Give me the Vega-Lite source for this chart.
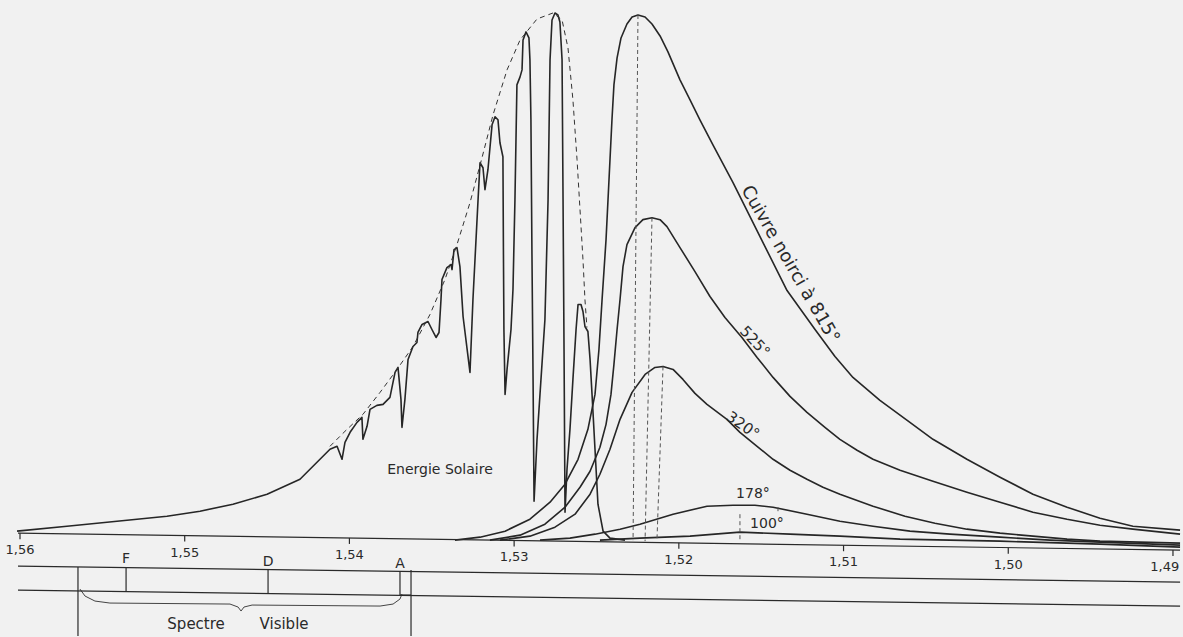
{
  "$schema": "https://vega.github.io/schema/vega-lite/v6.json",
  "width": 1183,
  "height": 637,
  "padding": 0,
  "autosize": {"type": "fit", "contains": "padding"},
  "background": "#f1f1f1",
  "config": {"view": {"stroke": null}},
  "datasets": {
    "curves": [
      {"s":"solar","n":1.56018,"e":13},{"s":"solar","n":1.55715,"e":18},{"s":"solar","n":1.55411,"e":23},{"s":"solar","n":1.55108,"e":28},{"s":"solar","n":1.54907,"e":33},{"s":"solar","n":1.54707,"e":40},{"s":"solar","n":1.545,"e":50},{"s":"solar","n":1.543,"e":65},{"s":"solar","n":1.54118,"e":95},{"s":"solar","n":1.54075,"e":98},{"s":"solar","n":1.54045,"e":85},{"s":"solar","n":1.54027,"e":102},{"s":"solar","n":1.53996,"e":112},{"s":"solar","n":1.53954,"e":122},{"s":"solar","n":1.53924,"e":127},{"s":"solar","n":1.53918,"e":105},{"s":"solar","n":1.53893,"e":118},{"s":"solar","n":1.53875,"e":135},{"s":"solar","n":1.53833,"e":139},{"s":"solar","n":1.53796,"e":140},{"s":"solar","n":1.53754,"e":147},{"s":"solar","n":1.53723,"e":172},{"s":"solar","n":1.53705,"e":177},{"s":"solar","n":1.53687,"e":145},{"s":"solar","n":1.53681,"e":117},{"s":"solar","n":1.53663,"e":145},{"s":"solar","n":1.53644,"e":185},{"s":"solar","n":1.53614,"e":198},{"s":"solar","n":1.5359,"e":202},{"s":"solar","n":1.53584,"e":212},{"s":"solar","n":1.53559,"e":220},{"s":"solar","n":1.53523,"e":223},{"s":"solar","n":1.53499,"e":215},{"s":"solar","n":1.53474,"e":207},{"s":"solar","n":1.53456,"e":212},{"s":"solar","n":1.53444,"e":245},{"s":"solar","n":1.53438,"e":265},{"s":"solar","n":1.53408,"e":277},{"s":"solar","n":1.53383,"e":280},{"s":"solar","n":1.53377,"e":275},{"s":"solar","n":1.53365,"e":295},{"s":"solar","n":1.53347,"e":297},{"s":"solar","n":1.53329,"e":278},{"s":"solar","n":1.5331,"e":228},{"s":"solar","n":1.53268,"e":172},{"s":"solar","n":1.5325,"e":245},{"s":"solar","n":1.53219,"e":345},{"s":"solar","n":1.53207,"e":382},{"s":"solar","n":1.53189,"e":377},{"s":"solar","n":1.53177,"e":355},{"s":"solar","n":1.53159,"e":375},{"s":"solar","n":1.53134,"e":420},{"s":"solar","n":1.53116,"e":428},{"s":"solar","n":1.53098,"e":425},{"s":"solar","n":1.53086,"e":402},{"s":"solar","n":1.53068,"e":388},{"s":"solar","n":1.53065,"e":295},{"s":"solar","n":1.53062,"e":215},{"s":"solar","n":1.53055,"e":150},{"s":"solar","n":1.53043,"e":175},{"s":"solar","n":1.53019,"e":215},{"s":"solar","n":1.53007,"e":255},{"s":"solar","n":1.52995,"e":345},{"s":"solar","n":1.52983,"e":460},{"s":"solar","n":1.52964,"e":468},{"s":"solar","n":1.52952,"e":475},{"s":"solar","n":1.52946,"e":505},{"s":"solar","n":1.52928,"e":513},{"s":"solar","n":1.5291,"e":507},{"s":"solar","n":1.52904,"e":485},{"s":"solar","n":1.52898,"e":425},{"s":"solar","n":1.52892,"e":295},{"s":"solar","n":1.52885,"e":165},{"s":"solar","n":1.52879,"e":43},{"s":"solar","n":1.52861,"e":105},{"s":"solar","n":1.52837,"e":165},{"s":"solar","n":1.52813,"e":225},{"s":"solar","n":1.52794,"e":345},{"s":"solar","n":1.52782,"e":485},{"s":"solar","n":1.5277,"e":525},{"s":"solar","n":1.52752,"e":532},{"s":"solar","n":1.52734,"e":530},{"s":"solar","n":1.52722,"e":523},{"s":"solar","n":1.52709,"e":485},{"s":"solar","n":1.52703,"e":345},{"s":"solar","n":1.52697,"e":195},{"s":"solar","n":1.52691,"e":32},{"s":"solar","n":1.52679,"e":75},{"s":"solar","n":1.52661,"e":115},{"s":"solar","n":1.52643,"e":165},{"s":"solar","n":1.52624,"e":215},{"s":"solar","n":1.52612,"e":240},{"s":"solar","n":1.52594,"e":240},{"s":"solar","n":1.52582,"e":233},{"s":"solar","n":1.5257,"e":218},{"s":"solar","n":1.52552,"e":213},{"s":"solar","n":1.52539,"e":185},{"s":"solar","n":1.52527,"e":150},{"s":"solar","n":1.52509,"e":95},{"s":"solar","n":1.52491,"e":40},{"s":"solar","n":1.5246,"e":13},{"s":"solar","n":1.52418,"e":6},{"s":"solar","n":1.52327,"e":4},
      {"s":"815","n":1.53359,"e":4},{"s":"815","n":1.53207,"e":7},{"s":"815","n":1.53055,"e":13},{"s":"815","n":1.52904,"e":25},{"s":"815","n":1.52782,"e":42},{"s":"815","n":1.52691,"e":60},{"s":"815","n":1.52612,"e":85},{"s":"815","n":1.52552,"e":115},{"s":"815","n":1.52509,"e":150},{"s":"815","n":1.52485,"e":195},{"s":"815","n":1.52466,"e":245},{"s":"815","n":1.52442,"e":305},{"s":"815","n":1.52424,"e":365},{"s":"815","n":1.52406,"e":425},{"s":"815","n":1.52394,"e":460},{"s":"815","n":1.52375,"e":487},{"s":"815","n":1.52351,"e":507},{"s":"815","n":1.52315,"e":521},{"s":"815","n":1.52284,"e":528},{"s":"815","n":1.52248,"e":530},{"s":"815","n":1.52205,"e":528},{"s":"815","n":1.52163,"e":521},{"s":"815","n":1.52114,"e":509},{"s":"815","n":1.52066,"e":493},{"s":"815","n":1.51993,"e":465},{"s":"815","n":1.51932,"e":445},{"s":"815","n":1.51872,"e":425},{"s":"815","n":1.51793,"e":400},{"s":"815","n":1.51671,"e":362},{"s":"815","n":1.5158,"e":332},{"s":"815","n":1.51489,"e":302},{"s":"815","n":1.51343,"e":254},{"s":"815","n":1.51173,"e":215},{"s":"815","n":1.51052,"e":188},{"s":"815","n":1.50943,"e":167},{"s":"815","n":1.50779,"e":144},{"s":"815","n":1.50597,"e":122},{"s":"815","n":1.50457,"e":105},{"s":"815","n":1.50251,"e":85},{"s":"815","n":1.5005,"e":67},{"s":"815","n":1.4985,"e":50},{"s":"815","n":1.49643,"e":37},{"s":"815","n":1.49443,"e":26},{"s":"815","n":1.49243,"e":18},{"s":"815","n":1.48957,"e":14},
      {"s":"525","n":1.53147,"e":4},{"s":"525","n":1.52964,"e":9},{"s":"525","n":1.52813,"e":20},{"s":"525","n":1.52691,"e":37},{"s":"525","n":1.526,"e":57},{"s":"525","n":1.52539,"e":73},{"s":"525","n":1.52479,"e":97},{"s":"525","n":1.52442,"e":120},{"s":"525","n":1.52412,"e":150},{"s":"525","n":1.52394,"e":180},{"s":"525","n":1.52375,"e":215},{"s":"525","n":1.52357,"e":245},{"s":"525","n":1.52339,"e":278},{"s":"525","n":1.52315,"e":300},{"s":"525","n":1.52266,"e":317},{"s":"525","n":1.52218,"e":325},{"s":"525","n":1.52163,"e":327},{"s":"525","n":1.52114,"e":325},{"s":"525","n":1.52072,"e":318},{"s":"525","n":1.51993,"e":297},{"s":"525","n":1.51902,"e":273},{"s":"525","n":1.51811,"e":248},{"s":"525","n":1.5172,"e":227},{"s":"525","n":1.51617,"e":207},{"s":"525","n":1.51525,"e":187},{"s":"525","n":1.51428,"e":167},{"s":"525","n":1.51325,"e":148},{"s":"525","n":1.51222,"e":132},{"s":"525","n":1.51113,"e":117},{"s":"525","n":1.51022,"e":105},{"s":"525","n":1.50918,"e":94},{"s":"525","n":1.50821,"e":85},{"s":"525","n":1.50657,"e":74},{"s":"525","n":1.50457,"e":63},{"s":"525","n":1.50251,"e":52},{"s":"525","n":1.5005,"e":42},{"s":"525","n":1.4985,"e":32},{"s":"525","n":1.49643,"e":25},{"s":"525","n":1.49443,"e":19},{"s":"525","n":1.49243,"e":15},{"s":"525","n":1.48957,"e":10},
      {"s":"320","n":1.53086,"e":4},{"s":"320","n":1.52904,"e":8},{"s":"320","n":1.52752,"e":17},{"s":"320","n":1.5263,"e":30},{"s":"320","n":1.52539,"e":50},{"s":"320","n":1.52479,"e":70},{"s":"320","n":1.52418,"e":95},{"s":"320","n":1.52357,"e":125},{"s":"320","n":1.52284,"e":152},{"s":"320","n":1.52205,"e":170},{"s":"320","n":1.52145,"e":177},{"s":"320","n":1.52096,"e":178},{"s":"320","n":1.52035,"e":175},{"s":"320","n":1.51975,"e":165},{"s":"320","n":1.51902,"e":151},{"s":"320","n":1.51829,"e":140},{"s":"320","n":1.51708,"e":125},{"s":"320","n":1.51629,"e":112},{"s":"320","n":1.51525,"e":98},{"s":"320","n":1.51428,"e":85},{"s":"320","n":1.51325,"e":74},{"s":"320","n":1.51222,"e":65},{"s":"320","n":1.51125,"e":57},{"s":"320","n":1.51022,"e":50},{"s":"320","n":1.50821,"e":38},{"s":"320","n":1.50627,"e":28},{"s":"320","n":1.50445,"e":21},{"s":"320","n":1.50251,"e":15},{"s":"320","n":1.5005,"e":11},{"s":"320","n":1.4985,"e":8},{"s":"320","n":1.49643,"e":5},{"s":"320","n":1.49443,"e":3},{"s":"320","n":1.48957,"e":1},
      {"s":"178","n":1.52843,"e":4},{"s":"178","n":1.52661,"e":6},{"s":"178","n":1.52509,"e":10},{"s":"178","n":1.52357,"e":15},{"s":"178","n":1.52236,"e":20},{"s":"178","n":1.52035,"e":30},{"s":"178","n":1.51829,"e":38},{"s":"178","n":1.51671,"e":39},{"s":"178","n":1.51538,"e":39},{"s":"178","n":1.51428,"e":37},{"s":"178","n":1.51222,"e":30},{"s":"178","n":1.51022,"e":23},{"s":"178","n":1.50821,"e":18},{"s":"178","n":1.50597,"e":13},{"s":"178","n":1.50354,"e":10},{"s":"178","n":1.5005,"e":7},{"s":"178","n":1.49747,"e":4},{"s":"178","n":1.49443,"e":2},{"s":"178","n":1.48957,"e":-1},
      {"s":"100","n":1.52479,"e":4},{"s":"100","n":1.52236,"e":6},{"s":"100","n":1.51932,"e":8},{"s":"100","n":1.51629,"e":12},{"s":"100","n":1.51325,"e":10},{"s":"100","n":1.51022,"e":8},{"s":"100","n":1.50657,"e":5},{"s":"100","n":1.5005,"e":3},{"s":"100","n":1.49443,"e":0},{"s":"100","n":1.48957,"e":-3}
    ],
    "envelope": [
      {"n":1.54118,"e":98},{"n":1.54027,"e":113},{"n":1.53918,"e":130},{"n":1.53814,"e":152},{"n":1.53711,"e":175},{"n":1.53614,"e":198},{"n":1.53511,"e":230},{"n":1.5342,"e":265},{"n":1.53347,"e":300},{"n":1.53268,"e":342},{"n":1.53195,"e":387},{"n":1.53128,"e":430},{"n":1.53043,"e":475},{"n":1.52964,"e":505},{"n":1.52861,"e":526},{"n":1.52764,"e":532},{"n":1.52709,"e":525},{"n":1.52673,"e":497},{"n":1.52643,"e":445},{"n":1.52618,"e":385},{"n":1.526,"e":335},{"n":1.52582,"e":285},{"n":1.5257,"e":245},{"n":1.52558,"e":217}
    ],
    "brace": [
      {"n":1.55636,"e":-45},{"n":1.55605,"e":-52},{"n":1.55545,"e":-57},{"n":1.55454,"e":-59},{"n":1.54725,"e":-60},{"n":1.54676,"e":-63},{"n":1.54658,"e":-67},{"n":1.5464,"e":-63},{"n":1.54591,"e":-61},{"n":1.53814,"e":-62},{"n":1.53735,"e":-60},{"n":1.53693,"e":-55},{"n":1.53681,"e":-50}
    ],
    "rules": [
      {"n1":1.56012,"e1":11,"n2":1.48957,"e2":-6},
      {"n1":1.56012,"e1":-22,"n2":1.48957,"e2":-38},
      {"n1":1.56012,"e1":-46,"n2":1.48957,"e2":-62},
      {"n1":1.56,"e1":11,"n2":1.56,"e2":5},
      {"n1":1.55,"e1":8.6,"n2":1.55,"e2":2.6},
      {"n1":1.54,"e1":6.2,"n2":1.54,"e2":0.2},
      {"n1":1.53,"e1":3.7,"n2":1.53,"e2":-2.3},
      {"n1":1.52,"e1":1.3,"n2":1.52,"e2":-4.7},
      {"n1":1.51,"e1":-1.1,"n2":1.51,"e2":-7.1},
      {"n1":1.5,"e1":-3.5,"n2":1.5,"e2":-9.5},
      {"n1":1.49,"e1":-5.9,"n2":1.49,"e2":-11.9},
      {"n1":1.55648,"e1":-23,"n2":1.55648,"e2":-92},
      {"n1":1.53626,"e1":-26,"n2":1.53626,"e2":-92},
      {"n1":1.55356,"e1":-23.5,"n2":1.55356,"e2":-47.5},
      {"n1":1.54494,"e1":-25.6,"n2":1.54494,"e2":-49.6},
      {"n1":1.53693,"e1":-27.6,"n2":1.53693,"e2":-51},
      {"n1":1.53693,"e1":-51,"n2":1.53626,"e2":-51}
    ],
    "markers": [
      {"n1":1.52248,"e1":530,"n2":1.52278,"e2":4},
      {"n1":1.52163,"e1":327,"n2":1.52205,"e2":3},
      {"n1":1.52096,"e1":178,"n2":1.52133,"e2":3},
      {"n1":1.51629,"e1":30,"n2":1.51629,"e2":4},
      {"n1":1.51398,"e1":37,"n2":1.51398,"e2":31}
    ],
    "ticklabels": [
      {"n":1.56,"e":-6,"t":"1,56"},{"n":1.55,"e":-8.4,"t":"1,55"},{"n":1.54,"e":-10.8,"t":"1,54"},{"n":1.53,"e":-13.3,"t":"1,53"},{"n":1.52,"e":-15.7,"t":"1,52"},{"n":1.51,"e":-18.1,"t":"1,51"},{"n":1.5,"e":-20.5,"t":"1,50"},{"n":1.4905,"e":-22.9,"t":"1,49"}
    ]
  },
  "layer": [
    {
      "data": {"name": "curves"},
      "mark": {"type": "line", "color": "#262626", "strokeWidth": 1.6, "strokeJoin": "round"},
      "encoding": {
        "x": {"field": "n", "type": "quantitative", "scale": {"domain": [1.489391, 1.561214], "reverse": true, "nice": false, "zero": false}, "axis": null},
        "y": {"field": "e", "type": "quantitative", "scale": {"domain": [-92, 545], "nice": false, "zero": false}, "axis": null},
        "detail": {"field": "s", "type": "nominal"}
      }
    },
    {
      "data": {"name": "envelope"},
      "mark": {"type": "line", "color": "#333333", "strokeWidth": 1, "strokeDash": [5, 4]},
      "encoding": {
        "x": {"field": "n", "type": "quantitative", "scale": {"domain": [1.489391, 1.561214], "reverse": true, "nice": false, "zero": false}, "axis": null},
        "y": {"field": "e", "type": "quantitative", "scale": {"domain": [-92, 545], "nice": false, "zero": false}, "axis": null}
      }
    },
    {
      "data": {"name": "brace"},
      "mark": {"type": "line", "color": "#444444", "strokeWidth": 1},
      "encoding": {
        "x": {"field": "n", "type": "quantitative", "scale": {"domain": [1.489391, 1.561214], "reverse": true, "nice": false, "zero": false}, "axis": null},
        "y": {"field": "e", "type": "quantitative", "scale": {"domain": [-92, 545], "nice": false, "zero": false}, "axis": null}
      }
    },
    {
      "data": {"name": "rules"},
      "mark": {"type": "rule", "color": "#2a2a2a", "strokeWidth": 1.2},
      "encoding": {
        "x": {"field": "n1", "type": "quantitative", "scale": {"domain": [1.489391, 1.561214], "reverse": true, "nice": false, "zero": false}, "axis": null},
        "x2": {"field": "n2"},
        "y": {"field": "e1", "type": "quantitative", "scale": {"domain": [-92, 545], "nice": false, "zero": false}, "axis": null},
        "y2": {"field": "e2"}
      }
    },
    {
      "data": {"name": "markers"},
      "mark": {"type": "rule", "color": "#555555", "strokeWidth": 1, "strokeDash": [4, 3]},
      "encoding": {
        "x": {"field": "n1", "type": "quantitative", "scale": {"domain": [1.489391, 1.561214], "reverse": true, "nice": false, "zero": false}, "axis": null},
        "x2": {"field": "n2"},
        "y": {"field": "e1", "type": "quantitative", "scale": {"domain": [-92, 545], "nice": false, "zero": false}, "axis": null},
        "y2": {"field": "e2"}
      }
    },
    {
      "data": {"name": "ticklabels"},
      "mark": {"type": "text", "font": "DejaVu Sans", "fontSize": 13, "color": "#2a2a2a", "align": "center", "baseline": "middle"},
      "encoding": {
        "x": {"field": "n", "type": "quantitative", "scale": {"domain": [1.489391, 1.561214], "reverse": true, "nice": false, "zero": false}, "axis": null},
        "y": {"field": "e", "type": "quantitative", "scale": {"domain": [-92, 545], "nice": false, "zero": false}, "axis": null},
        "text": {"field": "t"}
      }
    },
    {
      "data": {"values": [
        {"n": 1.55356, "e": -15, "t": "F"},
        {"n": 1.54494, "e": -18, "t": "D"},
        {"n": 1.53693, "e": -20, "t": "A"},
        {"n": 1.5345, "e": 74, "t": "Energie Solaire"},
        {"n": 1.5155, "e": 50, "t": "178°"},
        {"n": 1.51465, "e": 20, "t": "100°"}
      ]},
      "mark": {"type": "text", "font": "DejaVu Sans", "fontSize": 14, "color": "#2a2a2a", "align": "center", "baseline": "middle"},
      "encoding": {
        "x": {"field": "n", "type": "quantitative", "scale": {"domain": [1.489391, 1.561214], "reverse": true, "nice": false, "zero": false}, "axis": null},
        "y": {"field": "e", "type": "quantitative", "scale": {"domain": [-92, 545], "nice": false, "zero": false}, "axis": null},
        "text": {"field": "t"}
      }
    },
    {
      "data": {"values": [
        {"n": 1.54931, "e": -80, "t": "Spectre"},
        {"n": 1.54397, "e": -80, "t": "Visible"}
      ]},
      "mark": {"type": "text", "font": "DejaVu Sans", "fontSize": 15, "color": "#2a2a2a", "align": "center", "baseline": "middle"},
      "encoding": {
        "x": {"field": "n", "type": "quantitative", "scale": {"domain": [1.489391, 1.561214], "reverse": true, "nice": false, "zero": false}, "axis": null},
        "y": {"field": "e", "type": "quantitative", "scale": {"domain": [-92, 545], "nice": false, "zero": false}, "axis": null},
        "text": {"field": "t"}
      }
    },
    {
      "data": {"values": [{"n": 1.51325, "e": 280, "t": "Cuivre noirci à 815°"}]},
      "mark": {"type": "text", "font": "DejaVu Sans", "fontSize": 18, "color": "#2a2a2a", "align": "center", "baseline": "middle", "angle": 60},
      "encoding": {
        "x": {"field": "n", "type": "quantitative", "scale": {"domain": [1.489391, 1.561214], "reverse": true, "nice": false, "zero": false}, "axis": null},
        "y": {"field": "e", "type": "quantitative", "scale": {"domain": [-92, 545], "nice": false, "zero": false}, "axis": null},
        "text": {"field": "t"}
      }
    },
    {
      "data": {"values": [{"n": 1.51538, "e": 203, "t": "525°"}]},
      "mark": {"type": "text", "font": "DejaVu Sans", "fontSize": 15, "color": "#2a2a2a", "align": "center", "baseline": "middle", "angle": 47},
      "encoding": {
        "x": {"field": "n", "type": "quantitative", "scale": {"domain": [1.489391, 1.561214], "reverse": true, "nice": false, "zero": false}, "axis": null},
        "y": {"field": "e", "type": "quantitative", "scale": {"domain": [-92, 545], "nice": false, "zero": false}, "axis": null},
        "text": {"field": "t"}
      }
    },
    {
      "data": {"values": [{"n": 1.51611, "e": 119, "t": "320°"}]},
      "mark": {"type": "text", "font": "DejaVu Sans", "fontSize": 15, "color": "#2a2a2a", "align": "center", "baseline": "middle", "angle": 35},
      "encoding": {
        "x": {"field": "n", "type": "quantitative", "scale": {"domain": [1.489391, 1.561214], "reverse": true, "nice": false, "zero": false}, "axis": null},
        "y": {"field": "e", "type": "quantitative", "scale": {"domain": [-92, 545], "nice": false, "zero": false}, "axis": null},
        "text": {"field": "t"}
      }
    }
  ]
}
